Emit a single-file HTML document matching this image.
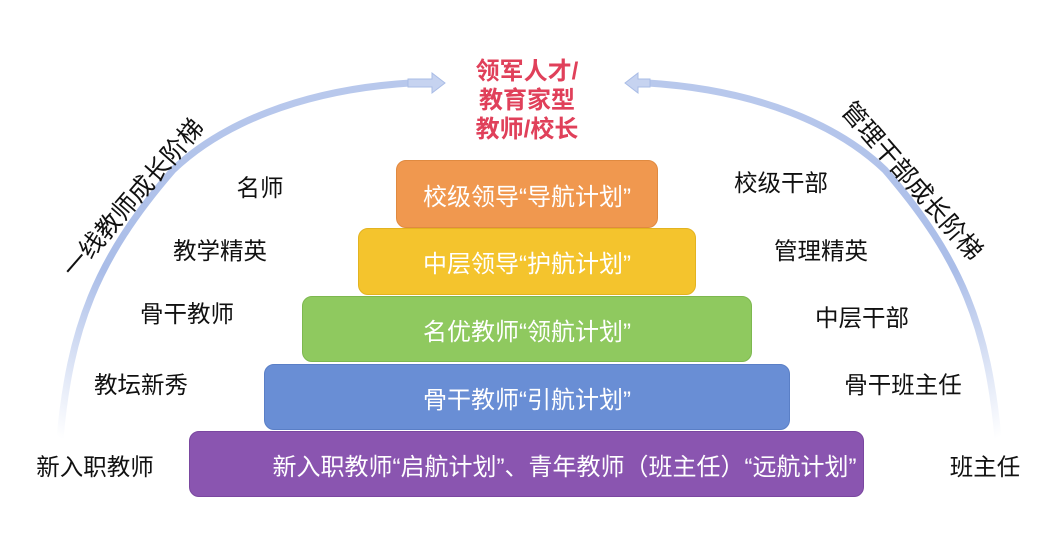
<!DOCTYPE html>
<html><head><meta charset="utf-8"><style>
body{margin:0;width:1058px;height:533px;background:#fff;position:relative;overflow:hidden;font-family:"Liberation Sans","Noto Sans CJK SC",sans-serif;}
.b{position:absolute;border-radius:10px;color:#fff;font-size:24px;display:flex;align-items:center;justify-content:center;box-sizing:border-box;white-space:nowrap}
.l{position:absolute;font-size:23.5px;color:#111;white-space:nowrap;transform:translate(-50%,-50%)}
.r{position:absolute;font-size:25px;color:#111;white-space:nowrap;transform:translate(-50%,-50%)}
.t{position:absolute;left:527px;transform:translateX(-50%);color:#E0405A;font-weight:bold;font-size:24px;white-space:nowrap}
</style></head><body>
<svg width="1058" height="533" style="position:absolute;left:0;top:0">
<defs>
<linearGradient id="g1" x1="0" y1="1" x2="0.6" y2="0"><stop offset="0" stop-color="#fff"/><stop offset="0.4" stop-color="#aabde8"/><stop offset="1" stop-color="#b8c8ec"/></linearGradient>
<linearGradient id="g2" x1="1" y1="1" x2="0.4" y2="0"><stop offset="0" stop-color="#fff"/><stop offset="0.4" stop-color="#aabde8"/><stop offset="1" stop-color="#b8c8ec"/></linearGradient>
</defs>
<path d="M60 438 C70 330 95 260 173 170 C220 125 300 90 410 83" fill="none" stroke="url(#g1)" stroke-width="7"/>
<path d="M408 79 L432 79 L432 73 L445 83 L432 93 L432 87 L408 87 Z" fill="#c6d3f0" stroke="#a9bce6"/>
<path d="M998 438 C988 330 963 260 885 170 C838 125 758 90 648 83" fill="none" stroke="url(#g2)" stroke-width="7"/>
<path d="M650 79 L638 79 L638 73 L625 83 L638 93 L638 87 L650 87 Z" fill="#c6d3f0" stroke="#a9bce6"/>
</svg>
<div class="t" style="top:51px">领军人才/</div>
<div class="t" style="top:80px">教育家型</div>
<div class="t" style="top:109px">教师/校长</div>
<div class="b" style="left:396px;top:160px;width:262px;height:68px;background:#F0984F;border:1px solid #e08a40">校级领导“导航计划”</div>
<div class="b" style="left:358px;top:228px;width:338px;height:67px;background:#F4C42D;border:1px solid #e3b320">中层领导“护航计划”</div>
<div class="b" style="left:302px;top:296px;width:450px;height:66px;background:#8FC95F;border:1px solid #7db84f">名优教师“领航计划”</div>
<div class="b" style="left:264px;top:364px;width:526px;height:66px;background:#698ED5;border:1px solid #5a7fc6">骨干教师“引航计划”</div>
<div class="b" style="left:189px;top:431px;width:675px;height:66px;background:#8A55B0;border:1px solid #7a47a0;padding-left:76px">新入职教师“启航计划”、青年教师（班主任）“远航计划”</div>
<div class="l" style="left:260px;top:186px">名师</div>
<div class="l" style="left:220px;top:249px">教学精英</div>
<div class="l" style="left:187px;top:312px">骨干教师</div>
<div class="l" style="left:141px;top:383px">教坛新秀</div>
<div class="l" style="left:95px;top:465px">新入职教师</div>
<div class="l" style="left:781px;top:181px">校级干部</div>
<div class="l" style="left:821px;top:249px">管理精英</div>
<div class="l" style="left:862px;top:316px">中层干部</div>
<div class="l" style="left:903px;top:383px">骨干班主任</div>
<div class="l" style="left:985px;top:465px">班主任</div>
<div class="r" style="left:132px;top:197px;transform:translate(-50%,-50%) rotate(-49deg)">一线教师成长阶梯</div>
<div class="r" style="left:913px;top:180px;transform:translate(-50%,-50%) rotate(49deg)">管理干部成长阶梯</div>
</body></html>
